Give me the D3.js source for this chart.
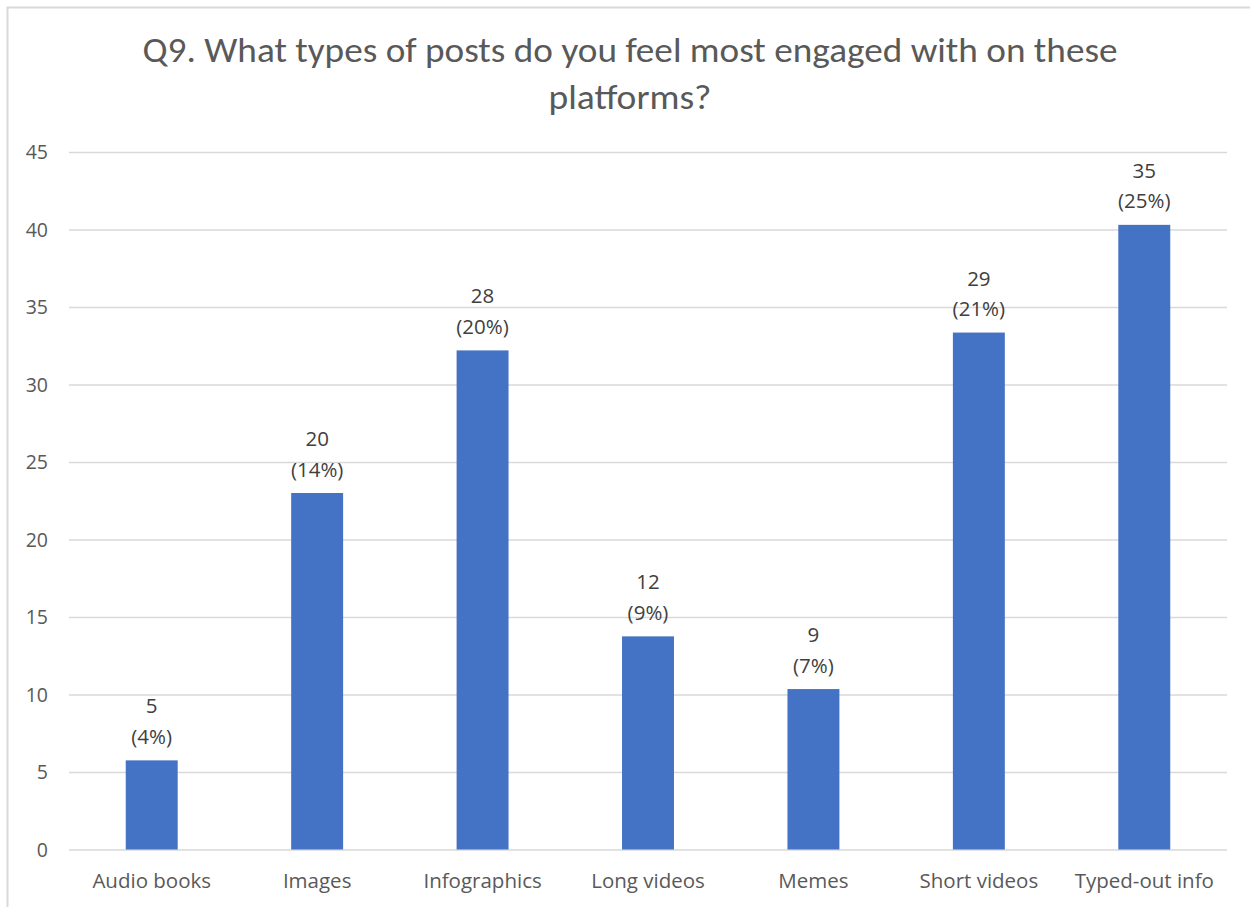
<!DOCTYPE html>
<html>
<head>
<meta charset="utf-8">
<script src="https://cdn.jsdelivr.net/npm/d3@7"></script>
<style>
  html, body { margin: 0; padding: 0; background: #fff; }
  svg { display: block; }
  text { font-family: "Open Sans", "Noto Sans", sans-serif; }
  .title { font-family: Carlito, Calibri, Lato, sans-serif; }
</style>
</head>
<body>
<svg id="chart" width="1250" height="907"></svg>
<script>
// ---- data ----
const categories = ["Audio books", "Images", "Infographics", "Long videos", "Memes", "Short videos", "Typed-out info"];
const barValues = [5.75, 23.0, 32.2, 13.75, 10.35, 33.35, 40.3];   // bar heights as drawn
const countLabels = ["5", "20", "28", "12", "9", "29", "35"];
const percentLabels = ["(4%)", "(14%)", "(20%)", "(9%)", "(7%)", "(21%)", "(25%)"];
const yTicks = [0, 5, 10, 15, 20, 25, 30, 35, 40, 45];
const titleLines = ["Q9. What types of posts do you feel most engaged with on these", "platforms?"];
const titleWidths = [975, 163];

const svg = d3.select("#chart");

// frame
svg.append("path")
  .attr("d", "M7.5,907 L7.5,7.5 L1250,7.5")
  .attr("fill", "none").attr("stroke", "#d9d9d9").attr("stroke-width", 2);

const x = d3.scaleBand().domain(categories).range([69, 1227]).paddingInner(0.686).paddingOuter(0.343);
const y = d3.scaleLinear().domain([0, 45]).range([849.5, 152]);

// gridlines + y tick labels
const yAxis = d3.axisLeft(y).tickValues(yTicks).tickSize(-(1227 - 69)).tickPadding(21).tickFormat(d3.format("d"));
const gy = svg.append("g").attr("transform", "translate(69,0)").call(yAxis);
gy.select(".domain").remove();
gy.selectAll(".tick line").attr("stroke", "#d9d9d9").attr("stroke-width", 1.5);
gy.selectAll(".tick text").attr("fill", "#595959").attr("font-size", 19.5).attr("dy", "0.35em");

// x axis labels
const xAxis = d3.axisBottom(x).tickSize(0).tickPadding(31);
const gx = svg.append("g").attr("transform", "translate(0,849.5)").call(xAxis);
gx.select(".domain").remove();
gx.selectAll(".tick text").attr("fill", "#595959").attr("font-size", 20.5).attr("dy", "0.35em");

// bars
svg.append("g").selectAll("rect").data(barValues).join("rect")
  .attr("x", (d, i) => x(categories[i]))
  .attr("width", x.bandwidth())
  .attr("y", d => y(d))
  .attr("height", d => y(0) - y(d))
  .attr("fill", "#4472c4");

// data labels
const lbl = svg.append("g").selectAll("text").data(barValues).join("text")
  .attr("text-anchor", "middle")
  .attr("fill", "#404040")
  .attr("font-size", 20.5)
  .attr("x", (d, i) => x(categories[i]) + x.bandwidth() / 2)
  .attr("y", d => y(d) - 47);
lbl.append("tspan").text((d, i) => countLabels[i]);
lbl.append("tspan")
  .attr("x", (d, i) => x(categories[i]) + x.bandwidth() / 2)
  .attr("dy", 30.5)
  .text((d, i) => percentLabels[i]);

// title
svg.append("g").selectAll("text").data(titleLines).join("text")
  .attr("class", "title")
  .attr("x", 630)
  .attr("y", (d, i) => 62 + i * 47)
  .attr("text-anchor", "middle")
  .attr("fill", "#595959")
  .attr("font-size", 34)
  .attr("textLength", (d, i) => titleWidths[i])
  .attr("lengthAdjust", "spacingAndGlyphs")
  .text(d => d);
</script>
</body>
</html>
